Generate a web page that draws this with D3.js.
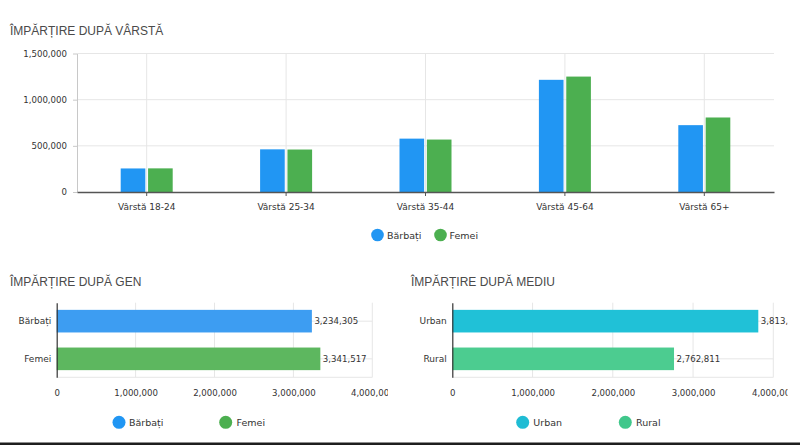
<!DOCTYPE html>
<html>
<head>
<meta charset="utf-8">
<script src="https://cdn.jsdelivr.net/npm/d3@7"></script>
<style>
  body { margin: 0; background: #fff; }
  .tick text { font-family: "DejaVu Sans", sans-serif; fill: #333; }
  .title { font-family: "Liberation Sans", Arial, sans-serif; font-size: 12px; fill: #4a4a4a; }
  .legend text { font-family: "DejaVu Sans", sans-serif; font-size: 9.5px; fill: #333; }
</style>
</head>
<body>
<div id="chart"></div>
<script>
// age chart data
const ageGroups = ["Vârstă 18-24", "Vârstă 25-34", "Vârstă 35-44", "Vârstă 45-64", "Vârstă 65+"];
const ageSeries = ["Bărbați", "Femei"];
const ageMen = [255000, 462000, 578000, 1215000, 724000];
const ageWomen = [256000, 460000, 568000, 1250000, 807000];
const ageTicks = [0, 500000, 1000000, 1500000];

// gender / area data
const genderCats = ["Bărbați", "Femei"];
const genderValues = [3234305, 3341517];
const areaCats = ["Urban", "Rural"];
const areaValues = [3813011, 2762811];
const barTicks = [0, 1000000, 2000000, 3000000, 4000000];

const fmt = d3.format(",");

const svg = d3.select("#chart")
  .append("svg")
  .attr("width", 800)
  .attr("height", 445);

// ---------- top: grouped columns ----------
const box = { left: 77, right: 774, top: 53.5, bottom: 192 };
const ageColor = d3.scaleOrdinal().domain(ageSeries).range(["#2196f3", "#4caf50"]);

svg.append("text")
  .attr("class", "title")
  .attr("x", 10)
  .attr("y", 35)
  .text("ÎMPĂRȚIRE DUPĂ VÂRSTĂ");

const x0 = d3.scaleBand()
  .domain(ageGroups)
  .range([box.left, box.right]);

const x1 = d3.scaleBand()
  .domain(ageSeries)
  .range([x0.bandwidth() / 2 - 26, x0.bandwidth() / 2 + 26])
  .paddingInner(0.1);

const y = d3.scaleLinear()
  .domain([0, 1500000])
  .range([box.bottom, box.top]);

// grid
svg.append("g")
  .selectAll("line")
  .data(ageTicks.slice(1))
  .join("line")
  .attr("x1", box.left)
  .attr("x2", box.right)
  .attr("y1", d => y(d))
  .attr("y2", d => y(d))
  .attr("stroke", "#e6e6e6");

svg.append("g")
  .selectAll("line")
  .data(ageGroups)
  .join("line")
  .attr("x1", d => x0(d) + x0.bandwidth() / 2)
  .attr("x2", d => x0(d) + x0.bandwidth() / 2)
  .attr("y1", box.top)
  .attr("y2", box.bottom)
  .attr("stroke", "#e6e6e6");

const yAxis = svg.append("g")
  .attr("transform", `translate(${box.left},0)`)
  .call(d3.axisLeft(y).tickValues(ageTicks).tickFormat(fmt).tickSize(4).tickSizeOuter(0).tickPadding(6));
yAxis.select(".domain").attr("stroke", "#c8c8c8");
yAxis.selectAll(".tick line").attr("stroke", "#c8c8c8");
yAxis.selectAll("text").style("font-size", "8.6px");

const ageRows = ageGroups.map((g, i) => ({ group: g, values: [ageMen[i], ageWomen[i]] }));

svg.append("g")
  .selectAll("g")
  .data(ageRows)
  .join("g")
  .attr("transform", d => `translate(${x0(d.group)},0)`)
  .selectAll("rect")
  .data(d => ageSeries.map((s, j) => ({ key: s, value: d.values[j] })))
  .join("rect")
  .attr("x", d => x1(d.key))
  .attr("y", d => y(d.value))
  .attr("width", x1.bandwidth())
  .attr("height", d => y(0) - y(d.value))
  .attr("fill", d => ageColor(d.key));

const xAxis = svg.append("g")
  .attr("transform", `translate(0,${box.bottom})`)
  .call(d3.axisBottom(x0).tickSize(4).tickSizeOuter(0).tickPadding(8));
xAxis.select(".domain").attr("stroke", "#555").attr("stroke-width", 1.5);
xAxis.selectAll(".tick line").attr("stroke", "#555");
xAxis.selectAll("text").style("font-size", "9px");

// top legend
const legendTop = svg.append("g").attr("class", "legend");
[{ cx: 377.5, tx: 387 }, { cx: 440.5, tx: 449.5 }].forEach((p, i) => {
  legendTop.append("circle").attr("cx", p.cx).attr("cy", 235).attr("r", 6.3).attr("fill", ageColor(ageSeries[i]));
  legendTop.append("text").attr("x", p.tx).attr("y", 238.5).text(ageSeries[i]);
});

// ---------- bottom: horizontal bars ----------
function hbar(opts) {
  const clipId = "clip-" + opts.id;
  svg.append("clipPath").attr("id", clipId)
    .append("rect").attr("x", opts.clipLeft).attr("y", 250).attr("width", opts.clipRight - opts.clipLeft).attr("height", 190);

  const g = svg.append("g").attr("clip-path", `url(#${clipId})`);

  g.append("text")
    .attr("class", "title")
    .attr("x", opts.titleX)
    .attr("y", 285.5)
    .text(opts.title);

  const x = d3.scaleLinear().domain([0, 4000000]).range([opts.left, opts.right]);
  const yb = d3.scaleBand()
    .domain(opts.cats)
    .range([302.7, 377.3])
    .paddingInner(0.4)
    .paddingOuter(0.19);

  // vertical grid
  g.append("g").selectAll("line")
    .data(barTicks.slice(1))
    .join("line")
    .attr("x1", d => x(d)).attr("x2", d => x(d))
    .attr("y1", 302.7).attr("y2", 377.3)
    .attr("stroke", "#e6e6e6");

  // horizontal grid at band centres + bottom
  g.append("g").selectAll("line")
    .data(opts.cats)
    .join("line")
    .attr("x1", opts.left).attr("x2", opts.right)
    .attr("y1", d => yb(d) + yb.bandwidth() / 2)
    .attr("y2", d => yb(d) + yb.bandwidth() / 2)
    .attr("stroke", "#e6e6e6");
  g.append("line")
    .attr("x1", opts.left).attr("x2", opts.right)
    .attr("y1", 377.3).attr("y2", 377.3)
    .attr("stroke", "#e6e6e6");

  const rows = opts.cats.map((c, i) => ({ cat: c, value: opts.values[i] }));

  g.append("g").selectAll("rect")
    .data(rows)
    .join("rect")
    .attr("x", x(0))
    .attr("y", d => yb(d.cat))
    .attr("width", d => x(d.value) - x(0))
    .attr("height", yb.bandwidth())
    .attr("fill", (d, i) => opts.colors[i]);

  g.append("g").selectAll("text")
    .data(rows)
    .join("text")
    .attr("x", d => x(d.value) + 2.5)
    .attr("y", d => yb(d.cat) + yb.bandwidth() / 2)
    .attr("dy", "0.35em")
    .style("font-family", "DejaVu Sans, sans-serif")
    .style("font-size", "8.6px")
    .style("fill", "#333")
    .text(d => fmt(d.value));

  const ya = g.append("g")
    .attr("transform", `translate(${opts.left},0)`)
    .call(d3.axisLeft(yb).tickSize(0).tickPadding(5.5));
  ya.select(".domain").attr("stroke", "#333").attr("stroke-width", 1.2);
  ya.selectAll("text").style("font-size", "9px");

  const xa = g.append("g")
    .attr("transform", "translate(0,377.3)")
    .call(d3.axisBottom(x).tickValues(barTicks).tickFormat(fmt).tickSize(0).tickPadding(12.5));
  xa.select(".domain").remove();
  xa.selectAll("text").style("font-size", "8.6px");

  const lg = g.append("g").attr("class", "legend");
  opts.legend.forEach((p, i) => {
    lg.append("circle").attr("cx", p.cx).attr("cy", 422.3).attr("r", 6.5).attr("fill", opts.legendColors[i]);
    lg.append("text").attr("x", p.tx).attr("y", 425.8).text(opts.cats[i]);
  });
}

hbar({
  id: "gen", title: "ÎMPĂRȚIRE DUPĂ GEN", titleX: 10,
  cats: genderCats, values: genderValues,
  left: 56.7, right: 372.3, clipLeft: 0, clipRight: 388,
  colors: ["#3d9df2", "#5db75f"], legendColors: ["#2196f3", "#4caf50"],
  legend: [{ cx: 119, tx: 129 }, { cx: 225.7, tx: 236.5 }]
});

hbar({
  id: "med", title: "ÎMPĂRȚIRE DUPĂ MEDIU", titleX: 411,
  cats: areaCats, values: areaValues,
  left: 452.3, right: 773.3, clipLeft: 400, clipRight: 787.5,
  colors: ["#20c1d7", "#4ccc90"], legendColors: ["#1fbcd4", "#40c78b"],
  legend: [{ cx: 522.7, tx: 533.3 }, { cx: 625.3, tx: 636 }]
});

// dark rule at the very bottom
svg.append("rect")
  .attr("x", 0).attr("y", 442.5)
  .attr("width", 800).attr("height", 2.5)
  .attr("fill", "#1e1e1e");
</script>
</body>
</html>
